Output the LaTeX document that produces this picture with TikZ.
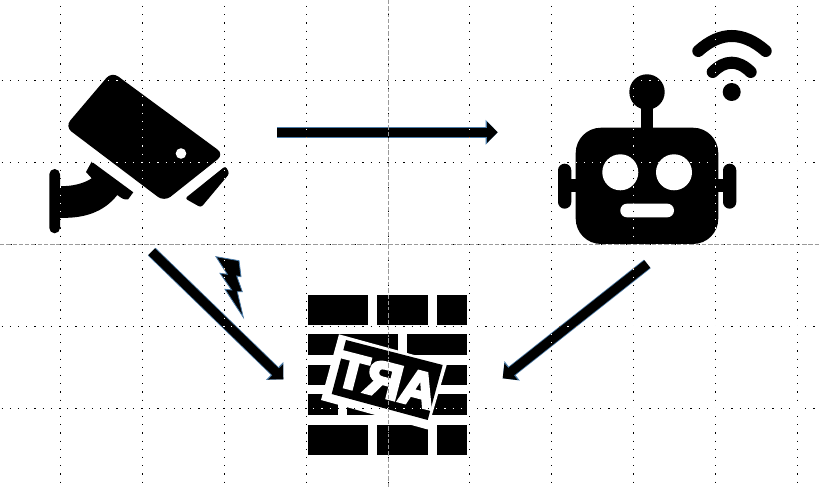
\documentclass[tikz,border=0pt]{standalone}
\usepackage{fontspec}
\setmainfont{Liberation Sans}
\newfontfamily\artfont[FakeBold=6]{Liberation Sans Bold}
\usetikzlibrary{arrows.meta}
\definecolor{edgeblue}{HTML}{4A7BA8}
\definecolor{axisgray}{HTML}{9A9A9A}
\tikzset{
  x=0.75pt,y=-0.75pt,
  icon/.style={fill=black,draw=none},
  hole/.style={fill=white,draw=none},
  griddots/.style={white,blend mode=difference,line width=0.85pt,dash pattern=on 0.85pt off 5.3pt},
  griddash/.style={axisgray,line width=0.75pt,dash pattern=on 3.3pt off 1.4pt},
  axisdots/.style={black,line width=0.75pt,dash pattern=on 0.75pt off 17.7pt},
  link/.style={line width=7pt,black,-{Triangle[length=8pt,width=15.5pt]},
    preaction={draw=edgeblue,line width=8.2pt,-{Triangle[length=9pt,width=18pt]}}},
  bolt/.style={fill=black,draw=edgeblue,line width=0.6pt,line join=miter},
  brick/.style={fill=black,draw=none},
}
\begin{document}
\begin{tikzpicture}
\useasboundingbox (0,0) rectangle (819,488);
\fill[white] (0,0) rectangle (819,488);
% camera
\fill[icon,rounded corners=6pt] (111.7,71.7) -- (224,154.3) -- (164.3,201.7) -- (65,126.7) -- cycle;
\fill[hole] (181,153.5) circle (5.3);
\fill[icon,rounded corners=2pt] (225.5,166) -- (229.5,173.5) -- (201,207.5) -- (185,198.5) -- cycle;
\fill[icon,rounded corners=4pt] (49.3,169) rectangle (60,233.3);
\fill[icon] (58,186) .. controls (72,187) and (85,183) .. (91.7,178.3) -- (86,172) -- (91.7,161.7)
  -- (133.3,192.3) -- (128,199.5) .. controls (124,200) and (121,198) .. (117.3,195)
  .. controls (104,212) and (84,219) .. (58,217.7) -- cycle;
% robot
\fill[icon,rounded corners=19pt] (575.7,127.7) rectangle (718.3,244);
\fill[icon] (640.7,100) rectangle (653.3,130);
\fill[icon] (647,92) circle (17.7);
\fill[hole] (620.3,172.3) circle (18);
\fill[hole] (674,172.3) circle (18);
\fill[hole,rounded corners=5pt] (620.3,203.7) rectangle (674,217.3);
\fill[icon,rounded corners=5pt] (558,163.7) rectangle (571.3,208.7);
\fill[icon] (570,179.3) rectangle (577,192.3);
\fill[icon,rounded corners=5pt] (723,163.7) rectangle (736.3,208.7);
\fill[icon] (717,179.3) rectangle (724,192.3);
\draw[line width=9pt,line cap=round] (698.3,51) .. controls (720.6,31) and (742.8,31) .. (765.7,51);
\draw[line width=9pt,line cap=round] (712.7,72) .. controls (725.4,59.6) and (738,59.6) .. (750.7,72);
\fill[icon] (731.7,92) circle (9);
% wall
\foreach \by/\bh in {295/30,425/30}{
  \fill[brick] (308,\by) rectangle +(59.7,\bh);
  \fill[brick] (377.3,\by) rectangle +(50.4,\bh);
  \fill[brick] (437.3,\by) rectangle +(29.7,\bh);
}
\fill[brick] (308,334.3) rectangle (397.7,355.3);
\fill[brick] (406.7,334.3) rectangle (467,355.3);
\fill[brick] (308,364.7) rectangle (467,385);
\fill[brick] (308,394.3) rectangle (337.7,415);
\fill[brick] (347.3,394.3) rectangle (467,415);
\fill[hole] (339,334.3) -- (447,364) -- (427.7,429.5) -- (321,400) -- cycle;
\fill[icon] (346,340) -- (442.7,365) -- (427.7,420) -- (331.7,394) -- cycle;
\node[white,inner sep=0pt,rotate=-14.5,font=\fontsize{37pt}{37pt}\artfont] (art) at (386.7,380.5) {\scalebox{-1}[1]{ART}};
% links
\coordinate (camout) at (151.7,251.7);
\coordinate (wallin) at (283.3,379.3);
\coordinate (robout) at (647.3,264);
\coordinate (wallinr) at (502.7,378.3);
\coordinate (camright) at (277.3,132.3);
\coordinate (robleft) at (497.7,132.3);
\draw[link] (camright) -- (robleft);
\draw[link] (camout) -- (wallin);
\draw[link] (robout) -- (wallinr);
\filldraw[bolt] (216,256.7) -- (239,260.7) -- (241,276.7) -- (236.7,276) -- (242.3,291.7) -- (237.3,291.7)
  -- (243.3,317.3) -- (225,289.3) -- (231.7,290) -- (220,273.3) -- (227.3,274.3) -- cycle;
% grid
\foreach \gx in {60.4,142.3,224.2,306.1,469.9,551.8,633.7,715.6,797.5}
  \draw[griddots] (\gx,6) -- (\gx,488);
\foreach \gy in {80.5,162.5,326.5,408.5}
  \draw[griddots] (1.6,\gy) -- (819,\gy);
\draw[griddash] (0,244.5) -- (819,244.5);
\draw[griddash] (388,0) -- (388,488);
\draw[axisdots] (10.5,244.5) -- (819,244.5);
\draw[axisdots] (388,14.5) -- (388,488);
\end{tikzpicture}
\end{document}
